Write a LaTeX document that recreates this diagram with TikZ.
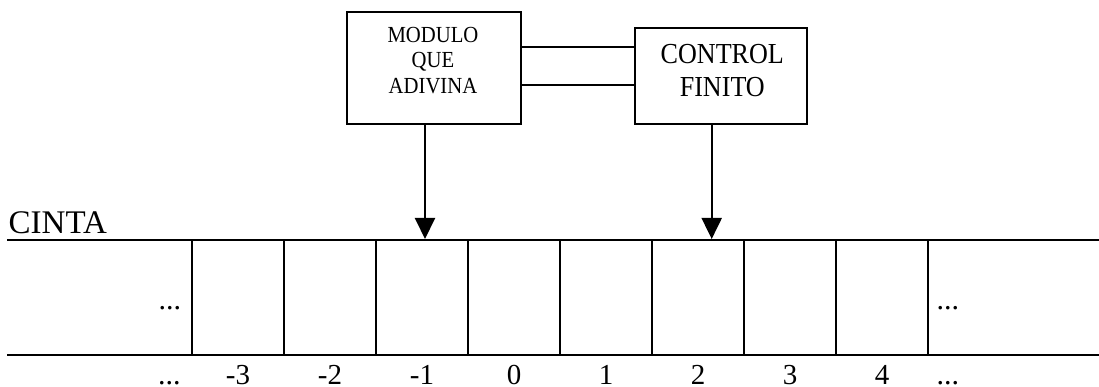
\documentclass[tikz,border=0pt]{standalone}
\usepackage{fontspec}
\setmainfont{Liberation Serif}
\newfontfamily\boxfont[FakeStretch=0.9]{Liberation Serif}
\usetikzlibrary{arrows.meta}
\tikzset{
  box/.style={draw, line width=2pt, inner sep=0pt, rectangle},
  wire/.style={line width=2pt},
  headarrow/.style={line width=2pt, -{Triangle[width=20pt,length=21pt]}},
  smalltxt/.style={inner sep=0pt, anchor=base, font=\boxfont\fontsize{23}{25}\selectfont},
  bigtxt/.style={inner sep=0pt, anchor=base, font=\boxfont\fontsize{29}{33}\selectfont},
  numtxt/.style={inner sep=0pt, anchor=base, font=\fontsize{29}{33}\selectfont},
  dotstxt/.style={inner sep=0pt, anchor=base west, font=\fontsize{30}{33}\selectfont},
}
\begin{document}
\begin{tikzpicture}[x=1pt,y=-1pt]
\useasboundingbox (0,0) rectangle (1099,387);
% boxes
\node[box, minimum width=173.4pt, minimum height=112.3pt] (mod) at (434,67.85) {};
\node[box, minimum width=172.3pt, minimum height=96.3pt] (ctl) at (721.15,75.85) {};
% box texts
\node[smalltxt] (m1) at (433,42.7) {MODULO};
\node[smalltxt] (m2) at (433,68) {QUE};
\node[smalltxt] (m3) at (433,93.3) {ADIVINA};
\node[bigtxt] (c1) at (722.3,63.3) {CONTROL};
\node[bigtxt] (c2) at (722.3,96.7) {FINITO};
% connecting lines
\coordinate (w1) at (0,46.7);
\coordinate (w2) at (0,85);
\draw[wire] (mod.east |- w1) -- (ctl.west |- w1);
\draw[wire] (mod.east |- w2) -- (ctl.west |- w2);
% tape
\coordinate (tl) at (7,240);
\coordinate (tr) at (1099,240);
\coordinate (bl) at (7,354.5);
\coordinate (br) at (1099,354.5);
\draw[wire] (tl) -- (tr);
\draw[wire] (bl) -- (br);
\foreach \i in {0,...,8}{
  \draw[wire] (192+92*\i,240) -- (192+92*\i,354.5);
}
\node[inner sep=0pt, anchor=base west, font=\fontsize{33}{36}\selectfont] (cinta) at (8.5,233.3) {CINTA};
% heads
\coordinate (h1) at (425,239);
\coordinate (h2) at (711.7,239);
\draw[headarrow] (h1 |- mod.south) -- (h1);
\draw[headarrow] (h2 |- ctl.south) -- (h2);
% dots in cells
\node[dotstxt] (d1) at (158.5,309) {...};
\node[dotstxt] (d2) at (936.3,309) {...};
% labels
\node[dotstxt] (l0) at (158,384) {...};
\node[numtxt] (l1) at (238,384) {-3};
\node[numtxt] (l2) at (330,384) {-2};
\node[numtxt] (l3) at (422,384) {-1};
\node[numtxt] (l4) at (514,384) {0};
\node[numtxt] (l5) at (606,384) {1};
\node[numtxt] (l6) at (698,384) {2};
\node[numtxt] (l7) at (790,384) {3};
\node[numtxt] (l8) at (882,384) {4};
\node[dotstxt] (l9) at (936.3,384) {...};
\end{tikzpicture}
\end{document}
